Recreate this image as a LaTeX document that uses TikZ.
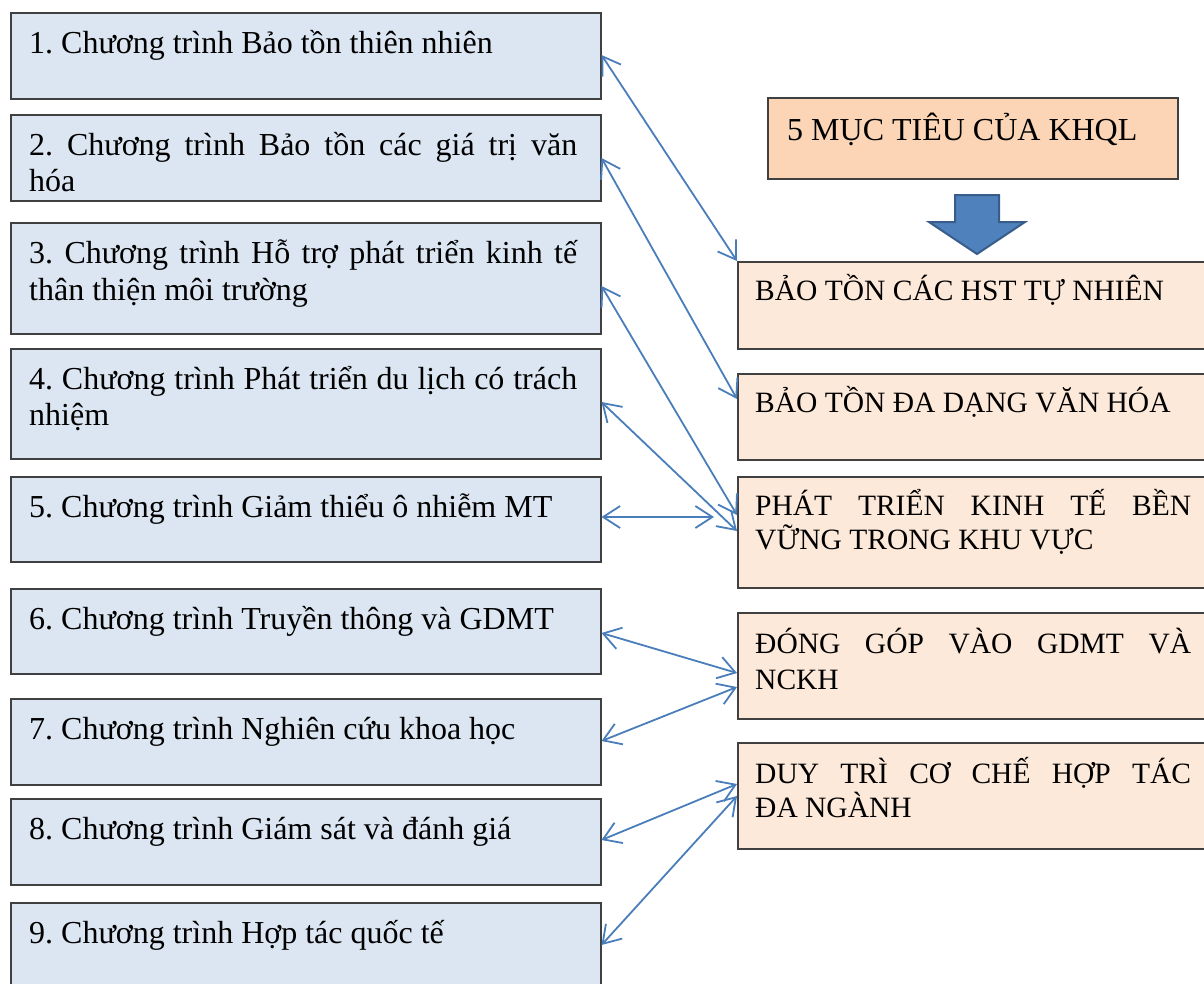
\documentclass[tikz,border=0pt]{standalone}
\usepackage{fontspec}
\setmainfont{Liberation Serif}
\usetikzlibrary{arrows.meta,calc}
\definecolor{lb}{HTML}{DCE6F2}
\definecolor{pk}{HTML}{FDE9D9}
\definecolor{pt}{HTML}{FBD5B5}
\definecolor{ar}{HTML}{4A7EBB}
\definecolor{bd}{HTML}{404040}
\definecolor{bf}{HTML}{4F81BD}
\definecolor{bo}{HTML}{385D8A}
\frenchspacing
\begin{document}
\begin{tikzpicture}[x=1pt,y=-1pt,
 prog/.style={draw=bd,line width=1.5pt,fill=lb,anchor=north west,inner sep=0,minimum width=590pt},
 goal/.style={draw=bd,line width=1.5pt,fill=pk,anchor=north west,inner sep=0,minimum width=480pt},
 txt/.style={anchor=base west,inner sep=0,font=\fontsize{32}{36}\selectfont},
 gtxt/.style={anchor=base west,inner sep=0,font=\fontsize{29.5}{34}\selectfont},
 link/.style={draw=ar,line width=1.8pt,{Straight Barb[length=17pt,width=22pt]}-{Straight Barb[length=17pt,width=22pt]}}]
\useasboundingbox (0,0) rectangle (1204,983);
% left program boxes
\node[prog,minimum height=86pt]  (b1) at (10,12) {};
\node[prog,minimum height=86pt]  (b2) at (10,114) {};
\node[prog,minimum height=111pt] (b3) at (10,222) {};
\node[prog,minimum height=110pt] (b4) at (10,348) {};
\node[prog,minimum height=85pt]  (b5) at (10,476) {};
\node[prog,minimum height=85pt]  (b6) at (10,588) {};
\node[prog,minimum height=86pt]  (b7) at (10,698) {};
\node[prog,minimum height=86pt]  (b8) at (10,798) {};
\node[prog,minimum height=90pt]  (b9) at (10,902) {};
% right goal boxes
\node[draw=bd,line width=1.5pt,fill=pt,anchor=north west,inner sep=0,minimum width=410pt,minimum height=81pt] (t) at (767,97) {};
\node[goal,minimum height=87pt]  (g1) at (737,261) {};
\node[goal,minimum height=86pt]  (g2) at (737,373) {};
\node[goal,minimum height=111pt] (g3) at (737,476) {};
\node[goal,minimum height=106pt] (g4) at (737,612) {};
\node[goal,minimum height=106pt] (g5) at (737,742) {};
% texts
\node[txt] at ($(b1.north west)+(19,41)$) {1. Chương trình Bảo tồn thiên nhiên};
\node[txt] at ($(b2.north west)+(19,41)$) {\makebox[548pt][s]{2. Chương trình Bảo tồn các giá trị văn}};
\node[txt] at ($(b2.north west)+(19,77)$) {hóa};
\node[txt] at ($(b3.north west)+(19,41)$) {\makebox[548pt][s]{3. Chương trình Hỗ trợ phát triển kinh tế}};
\node[txt] at ($(b3.north west)+(19,78)$) {thân thiện môi trường};
\node[txt] at ($(b4.north west)+(19,41)$) {\makebox[548pt][s]{4. Chương trình Phát triển du lịch có trách}};
\node[txt] at ($(b4.north west)+(19,77)$) {nhiệm};
\node[txt] at ($(b5.north west)+(19,41)$) {5. Chương trình Giảm thiểu ô nhiễm MT};
\node[txt] at ($(b6.north west)+(19,41)$) {6. Chương trình Truyền thông và GDMT};
\node[txt] at ($(b7.north west)+(19,41)$) {7. Chương trình Nghiên cứu khoa học};
\node[txt] at ($(b8.north west)+(19,41)$) {8. Chương trình Giám sát và đánh giá};
\node[txt] at ($(b9.north west)+(19,41)$) {9. Chương trình Hợp tác quốc tế};
\node[txt] at ($(t.north west)+(20,43)$) {5 MỤC TIÊU CỦA KHQL};
\node[gtxt] at ($(g1.north west)+(18,39)$) {BẢO TỒN CÁC HST TỰ NHIÊN};
\node[gtxt] at ($(g2.north west)+(18,39)$) {BẢO TỒN ĐA DẠNG VĂN HÓA};
\node[gtxt] at ($(g3.north west)+(18,39)$) {\makebox[436pt][s]{PHÁT TRIỂN KINH TẾ BỀN}};
\node[gtxt] at ($(g3.north west)+(18,73)$) {VỮNG TRONG KHU VỰC};
\node[gtxt] at ($(g4.north west)+(18,41)$) {\makebox[436pt][s]{ĐÓNG GÓP VÀO GDMT VÀ}};
\node[gtxt] at ($(g4.north west)+(18,77)$) {NCKH};
\node[gtxt] at ($(g5.north west)+(18,41)$) {\makebox[436pt][s]{DUY TRÌ CƠ CHẾ HỢP TÁC}};
\node[gtxt] at ($(g5.north west)+(18,75)$) {ĐA NGÀNH};
% big down arrow
\draw[fill=bf,draw=bo,line width=2pt,line join=miter]
  (955,195) -- (999,195) -- (999,222) -- (1025,222) -- (977,254) -- (929,222) -- (955,222) -- cycle;
% connectors
\draw[link] ($(b1.north east)+(0,43)$) -- (g1.north west);
\draw[link] ($(b2.north east)+(0,44)$) -- ($(g2.north west)+(0,26)$);
\draw[link] ($(b3.north east)+(0,64)$) -- ($(g3.north west)+(0,39)$);
\draw[link] ($(b4.north east)+(0,54)$) -- ($(g3.north west)+(0,55)$);
\draw[link] ($(b5.north east)+(0,41)$) -- ($(g3.north west)+(-23,41)$);
\draw[link] ($(b6.north east)+(0,45)$) -- ($(g4.north west)+(0,61)$);
\draw[link] ($(b7.north east)+(0,43)$) -- ($(g4.north west)+(0,75)$);
\draw[link] ($(b8.north east)+(0,42)$) -- ($(g5.north west)+(0,42)$);
\draw[link] ($(b9.north east)+(0,43)$) -- ($(g5.north west)+(0,54)$);
\end{tikzpicture}
\end{document}
